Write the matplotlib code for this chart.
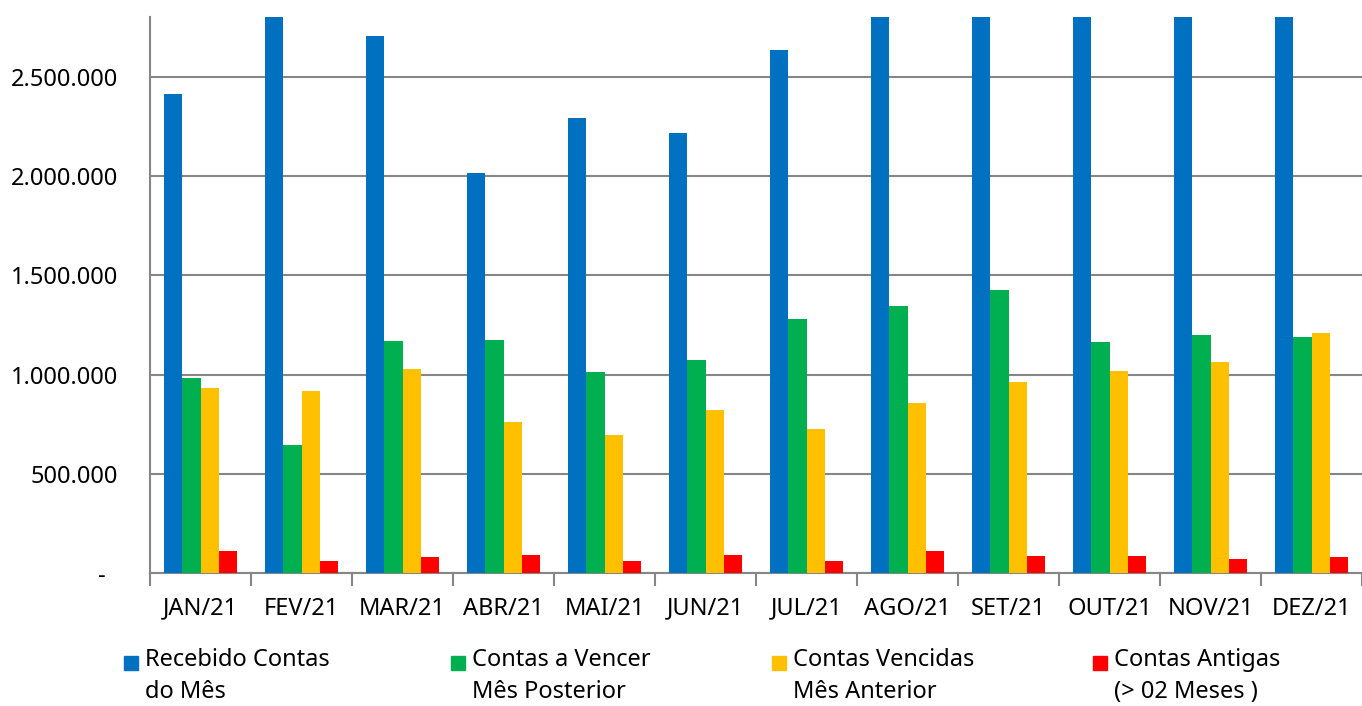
import numpy as np
import matplotlib
matplotlib.use("Agg")
import matplotlib.pyplot as plt
from matplotlib.patches import Rectangle
from matplotlib.ticker import FuncFormatter

plt.rcParams['font.family'] = ['Noto Sans', 'DejaVu Sans']

months = ['JAN/21', 'FEV/21', 'MAR/21', 'ABR/21', 'MAI/21', 'JUN/21',
          'JUL/21', 'AGO/21', 'SET/21', 'OUT/21', 'NOV/21', 'DEZ/21']

# the blue bars of FEV, AGO-DEZ are cut off at the top in the original
recebido = [2415000, 3000000, 2705000, 2015000, 2295000, 2215000,
            2635000, 3000000, 3000000, 3000000, 3000000, 3000000]
a_vencer = [982000, 645000, 1170000, 1175000, 1012000, 1073000,
            1280000, 1345000, 1425000, 1165000, 1200000, 1190000]
vencidas = [932000, 918000, 1028000, 760000, 695000, 822000,
            725000, 856000, 962000, 1018000, 1064000, 1210000]
antigas = [112000, 60000, 80000, 90000, 60000, 90000,
           60000, 112000, 86000, 86000, 70000, 80000]

series = [recebido, a_vencer, vencidas, antigas]
labels = ['Recebido Contas\ndo Mês', 'Contas a Vencer\nMês Posterior',
          'Contas Vencidas\nMês Anterior', 'Contas Antigas\n(> 02 Meses )']
colors = ['#0070C0', '#00B050', '#FFC000', '#FF0000']

fig = plt.figure(figsize=(13.62, 7.06), dpi=100)
ax = fig.add_axes([150 / 1362, 133 / 706, 1 - 150 / 1362, 556 / 706])

x = np.arange(len(months))
w = 0.183
for i, vals in enumerate(series):
    ax.bar(x + (i - 1.5) * w, vals, w, color=colors[i], zorder=3)

ax.set_xlim(-0.5, len(months) - 0.5)
ax.set_ylim(0, 2802000)
ax.set_yticks([0, 500000, 1000000, 1500000, 2000000, 2500000])


def fmt(v, pos):
    if v == 0:
        return '-  '
    return '{:,.0f}'.format(v).replace(',', '.')


ax.yaxis.set_major_formatter(FuncFormatter(fmt))
ax.yaxis.grid(True, color='#868686', linewidth=1.5, zorder=0)
ax.tick_params(axis='y', length=0, pad=23, labelsize=17)

ax.set_xticks(x)
ax.set_xticklabels(months)
ax.set_xticks(np.arange(len(months) + 1) - 0.5, minor=True)
ax.tick_params(axis='x', which='major', length=0, pad=17, labelsize=17)
ax.tick_params(axis='x', which='minor', length=9, width=1.5, color='#868686')

for s in ['top', 'right']:
    ax.spines[s].set_visible(False)
for s in ['left', 'bottom']:
    ax.spines[s].set_color('#868686')
    ax.spines[s].set_linewidth(1.5)

# legend drawn by hand so the square sits next to the first line
leg_x = [124, 451, 772, 1093]
for i in range(4):
    fig.add_artist(Rectangle((leg_x[i] / 1362, (706 - 670) / 706), 14 / 1362, 14 / 706,
                             transform=fig.transFigure, color=colors[i]))
    fig.text((leg_x[i] + 21) / 1362, (706 - 648) / 706, labels[i], fontsize=17,
             va='top', ha='left', linespacing=1.45)

fig.savefig('out.png', dpi=100)
